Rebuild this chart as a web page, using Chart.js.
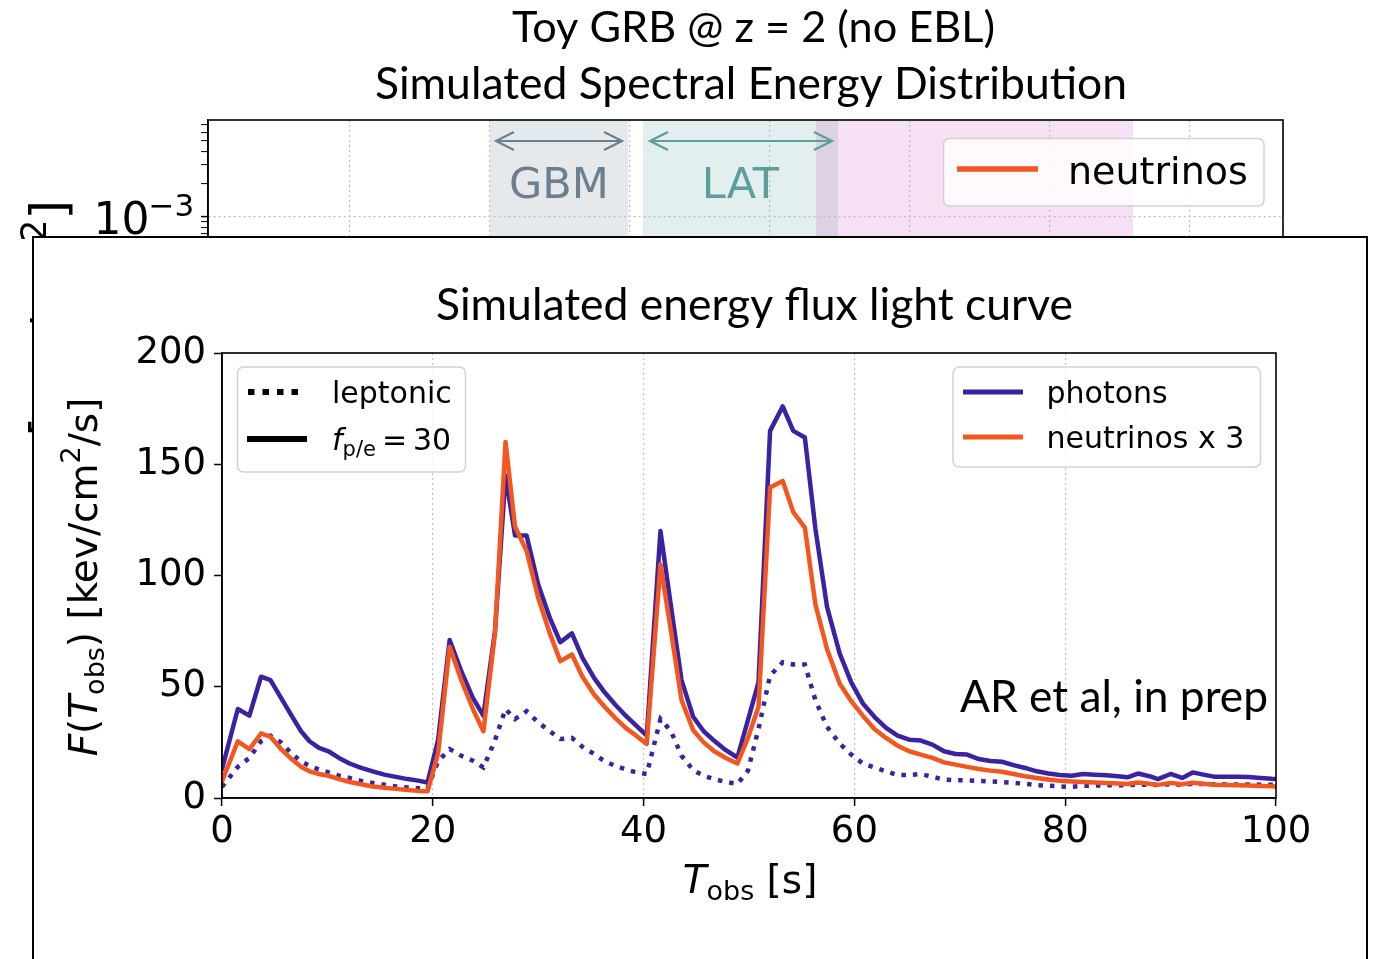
<!DOCTYPE html>
<html>
<head>
<meta charset="utf-8">
<script src="https://cdn.jsdelivr.net/npm/chart.js@4.4.1/dist/chart.umd.min.js"></script>
<style>
  html, body { margin: 0; padding: 0; background: #fff; overflow: hidden; }
  #sed { position: absolute; left: 0; top: 0; }
  #box { position: absolute; left: 32px; top: 236px; width: 1336px; height: 760px;
         box-sizing: border-box; border: 2px solid #000; background: #fff; }
  #lc { position: absolute; left: 0; top: 0; }
</style>
</head>
<body>
<canvas id="sed" width="1373" height="959"></canvas>
<div id="box"></div>
<canvas id="lc" width="1373" height="959"></canvas>
<script>
// ---- light curve data ----
const timeS = [0,1.5,2.6,3.7,4.6,5.6,6.6,7.5,8.3,9.2,10.1,11.1,12.1,13.2,14.3,15.4,16.5,17.6,18.6,19.5,
  20.5,21.6,22.7,23.8,24.8,25.9,26.9,27.8,28.9,30.0,31.1,32.1,33.2,34.2,35.3,36.3,37.3,38.3,39.3,40.3,
  41.6,42.6,43.6,44.7,45.7,46.7,47.8,48.9,49.9,50.9,52.0,53.2,54.2,55.3,56.3,57.4,58.6,59.7,60.8,61.9,
  63.0,64.1,65.2,66.3,67.4,68.5,69.6,70.7,71.8,72.9,74.0,75.1,76.2,77.3,78.4,79.5,80.6,81.7,82.8,83.9,
  85.0,85.9,86.9,88.0,88.8,90.0,91.1,92.1,93.1,94.1,95.2,96.3,97.4,98.5,99.6,100];

const photons = [13,40,37,54.5,53,45,37,30,25.5,22.5,21,18,15.5,13.5,12,10.5,9.5,8.5,7.8,7,
  26,71,57,45,37,75,145,118,118,96,81,70,74,63,54,47.5,42,37,32.5,28,
  120,86,53,36.5,30,25.7,21.5,18.2,35,52,165,176,165,162,121,86,65,52,42.5,36.5,
  31.5,28,26.2,25.8,24,21,19.8,19.5,17.5,16.6,16.3,14.8,13.5,12,11,10.3,10,10.8,10.5,10.2,
  9.8,9.3,11,9.8,8.5,10.8,9,11.5,10.5,9.6,9.6,9.6,9.4,9.0,8.6,8.5];

const neutrinosX3 = [7.5,25.5,22,29,27.5,22,17.5,14,12,10.8,10,8.5,7.2,6.2,5.2,4.6,4.1,3.6,3.2,3,
  20,68,53,40,30,74,160,122,111,90,74,61.5,64.5,54.5,46.5,41,36,31.5,28,24.3,
  105,75,44,30.5,25,21,18,15.5,27,41,139.5,142.5,128.5,121.5,87,67,51.5,43.5,37,31,
  27,23.5,21,19.5,18,16,15,14,13,12.3,11.8,10.8,9.8,9,8.3,7.7,7.4,7.2,7,6.7,
  6.5,6.3,7,6.4,5.9,6.8,6.2,6.9,6.4,6,5.8,5.7,5.6,5.4,5.3,5.2];

const leptonic = [5,14,18,25.5,28,25,20,16.5,14.5,12.8,11.5,10,9,7.7,6.8,6,5.2,4.7,4.4,4.3,
  16.5,22,19,16.8,13.7,26,40,35.5,39,34,30,26.5,27,23,19.8,16.5,14.5,12.8,11.5,10.8,
  35.5,30,19,12.5,10,8.5,7.2,6.3,12.3,31,55,61,60,60,44,32,24.5,19.5,15.5,13.7,
  12,10.3,10.3,10.8,9.5,8.3,8,7.9,7.7,7.5,7.2,6.8,6.4,5.8,5.5,5.2,5,5.5,5.6,5.7,
  5.7,5.8,6,6,5.8,6.2,6,6.4,6.3,6.2,6.1,6.1,6.1,6,6,6];

const lcXRange = [0, 100];
const lcYRange = [0, 200];

// ---- SED panel (only its top strip is visible) ----
const sedXRange = [0.09676, 4.617e6];
const sedYRange = [5.1e-10, 7.77e-3];
const sedXDecades = [1, 10, 100, 1e3, 1e4, 1e5, 1e6];
const sedYTicks = [1e-9, 1e-8, 1e-7, 1e-6, 1e-5, 1e-4, 7e-4, 8e-4, 9e-4,
  1e-3, 2e-3, 3e-3, 4e-3, 5e-3, 6e-3, 7e-3];
const gbmRange = [10, 96.8];
const latRange = [123.8, 3060];
const pinkRange = [2131, 3.916e5];
const sedNeutrinos = [];

const BLUE = '#3b22a2';
const ORANGE = '#f4561f';
const MPL = '"DejaVu Sans"';
const PPT = 'Lato';

function fitText(ctx, text, x0, x1, base, family) {
  ctx.font = '40px ' + family;
  const w = ctx.measureText(text).width;
  ctx.font = (40 * (x1 - x0) / w).toFixed(2) + 'px ' + family;
  ctx.textAlign = 'left';
  ctx.textBaseline = 'alphabetic';
  ctx.fillText(text, x0, base);
}

function runsWidth(ctx, runs) {
  let w = 0;
  for (const r of runs) { ctx.font = r.f; w += ctx.measureText(r.t).width; }
  return w;
}

function drawRuns(ctx, runs, x, y) {
  ctx.textAlign = 'left';
  ctx.textBaseline = 'alphabetic';
  let cx = x;
  for (const r of runs) {
    ctx.font = r.f;
    ctx.fillText(r.t, cx, y + (r.dy || 0));
    cx += ctx.measureText(r.t).width;
  }
}

function legendBox(ctx, x0, y0, x1, y1) {
  ctx.beginPath();
  ctx.roundRect(x0, y0, x1 - x0, y1 - y0, 6);
  ctx.fillStyle = 'rgba(255,255,255,0.8)';
  ctx.fill();
  ctx.strokeStyle = '#d2d2d2';
  ctx.lineWidth = 1.5;
  ctx.stroke();
}

function hline(ctx, x0, x1, y, color, width, dash) {
  ctx.beginPath();
  ctx.setLineDash(dash || []);
  ctx.lineCap = 'butt';
  ctx.strokeStyle = color;
  ctx.lineWidth = width;
  ctx.moveTo(x0, y);
  ctx.lineTo(x1, y);
  ctx.stroke();
  ctx.setLineDash([]);
}

function arrow(ctx, x0, x1, y, color) {
  ctx.strokeStyle = color;
  ctx.lineWidth = 2.2;
  ctx.beginPath();
  ctx.moveTo(x0, y); ctx.lineTo(x1, y);
  ctx.moveTo(x0 + 18, y - 9); ctx.lineTo(x0, y); ctx.lineTo(x0 + 18, y + 9);
  ctx.moveTo(x1 - 18, y - 9); ctx.lineTo(x1, y); ctx.lineTo(x1 - 18, y + 9);
  ctx.stroke();
}

const isDecade = v => Math.abs(Math.log10(v) - Math.round(Math.log10(v))) < 1e-6;

// bands behind the grid of the SED panel
const sedBands = {
  id: 'sedBands',
  beforeDraw(chart) {
    const {ctx, chartArea: a, scales: {x}} = chart;
    ctx.save();
    const band = (r, color) => {
      const p0 = x.getPixelForValue(r[0]), p1 = x.getPixelForValue(r[1]);
      ctx.fillStyle = color;
      ctx.fillRect(p0, a.top, p1 - p0, a.bottom - a.top);
    };
    band(gbmRange, 'rgba(88,108,128,0.15)');
    band(latRange, 'rgba(68,142,142,0.15)');
    band(pinkRange, 'rgba(188,55,175,0.15)');
    ctx.restore();
  }
};

const sedDecor = {
  id: 'sedDecor',
  afterDraw(chart) {
    const {ctx, chartArea: a, scales: {x, y}} = chart;
    ctx.save();
    ctx.fillStyle = '#000';
    fitText(ctx, 'Toy GRB @ z = 2 (no EBL)', 512, 995, 42, PPT);
    fitText(ctx, 'Simulated Spectral Energy Distribution', 375, 1127, 99, PPT);

    // spines
    ctx.strokeStyle = '#000';
    ctx.lineWidth = 1.6;
    ctx.strokeRect(a.left, a.top, a.right - a.left, a.bottom - a.top);

    // instrument ranges
    const g0 = x.getPixelForValue(gbmRange[0]), g1 = x.getPixelForValue(gbmRange[1]);
    const l0 = x.getPixelForValue(latRange[0]), l1 = x.getPixelForValue(latRange[1]);
    arrow(ctx, g0 + 6, g1 - 6, 141, '#6d7e8d');
    arrow(ctx, l0 + 7, l1 - 6, 141, '#5c9e9a');
    ctx.font = '43px ' + MPL;
    ctx.textAlign = 'center';
    ctx.textBaseline = 'alphabetic';
    ctx.fillStyle = '#6d7e8d';
    ctx.fillText('GBM', (g0 + g1) / 2, 198);
    ctx.fillStyle = '#5c9e9a';
    ctx.fillText('LAT', (l0 + l1) / 2, 198);

    // legend
    legendBox(ctx, 943.5, 138.5, 1264, 206);
    hline(ctx, 957, 1038, 169, ORANGE, 5.5);
    ctx.fillStyle = '#000';
    ctx.font = '38px ' + MPL;
    ctx.textAlign = 'left';
    ctx.fillText(chart.data.datasets[0].label, 1068, 184);

    // y tick label 10^-3
    const yp = y.getPixelForValue(1e-3);
    drawRuns(ctx, [{t: '10', f: '44px ' + MPL}], 93.5, yp + 17);
    drawRuns(ctx, [{t: '\u22123', f: '31px ' + MPL}], 148.5, yp - 1);

    // y axis label (mostly hidden under the inset)
    ctx.translate(66, 200);
    ctx.rotate(-Math.PI / 2);
    const runs = [
      {t: '[erg/cm', f: '50px ' + MPL},
      {t: '2', f: '35px ' + MPL, dy: -20},
      {t: ']', f: '50px ' + MPL}
    ];
    drawRuns(ctx, runs, -runsWidth(ctx, runs), 0);
    ctx.restore();
  }
};

new Chart(document.getElementById('sed'), {
  type: 'line',
  data: { datasets: [{ label: 'neutrinos', data: sedNeutrinos, borderColor: ORANGE, borderWidth: 4, pointRadius: 0 }] },
  options: {
    responsive: false,
    animation: false,
    events: [],
    layout: { padding: { left: 108, top: 120, right: 90, bottom: 39 } },
    plugins: { legend: { display: false }, tooltip: { enabled: false } },
    scales: {
      x: {
        type: 'logarithmic',
        min: sedXRange[0], max: sedXRange[1],
        afterBuildTicks: s => { s.ticks = sedXDecades.map(v => ({value: v})); },
        afterFit: s => { s.height = 20; },
        ticks: { display: false },
        grid: { color: '#bdbdbd', lineWidth: 1.2, drawTicks: false },
        border: { display: false, dash: [2, 3] }
      },
      y: {
        type: 'logarithmic',
        min: sedYRange[0], max: sedYRange[1],
        afterBuildTicks: s => { s.ticks = sedYTicks.map(v => ({value: v})); },
        afterFit: s => { s.width = 100; },
        ticks: { display: false, autoSkip: false },
        grid: {
          color: c => (c.tick && isDecade(c.tick.value)) ? '#bdbdbd' : 'rgba(0,0,0,0)',
          lineWidth: 1.2,
          tickColor: '#000',
          tickLength: 7,
          tickWidth: c => (c.tick && isDecade(c.tick.value)) ? 1.5 : 1
        },
        border: { display: true, color: '#000', width: 1.6, dash: [2, 3] }
      }
    }
  },
  plugins: [sedBands, sedDecor]
});

// ---- light curve inset ----
const lcDecor = {
  id: 'lcDecor',
  afterDraw(chart) {
    const {ctx, chartArea: a} = chart;
    const ds = chart.data.datasets;
    ctx.save();
    ctx.strokeStyle = '#000';
    ctx.lineWidth = 1.6;
    ctx.strokeRect(a.left, a.top, a.right - a.left, a.bottom - a.top);

    ctx.fillStyle = '#000';
    fitText(ctx, 'Simulated energy flux light curve', 436, 1073, 320, PPT);
    fitText(ctx, 'AR et al, in prep', 960, 1268, 712, PPT);

    // axis titles
    const xl = [
      {t: 'T', f: 'italic 39px ' + MPL},
      {t: 'obs', f: '27px ' + MPL, dy: 7},
      {t: ' [s]', f: '39px ' + MPL}
    ];
    ctx.fillStyle = '#000';
    drawRuns(ctx, xl, 750 - runsWidth(ctx, xl) / 2, 893);

    const yl = [
      {t: 'F', f: 'italic 39px ' + MPL},
      {t: '(', f: '39px ' + MPL},
      {t: 'T', f: 'italic 39px ' + MPL},
      {t: 'obs', f: '27px ' + MPL, dy: 7},
      {t: ')', f: '39px ' + MPL},
      {t: ' [kev/cm', f: '39px ' + MPL},
      {t: '2', f: '27px ' + MPL, dy: -17},
      {t: '/s]', f: '39px ' + MPL}
    ];
    ctx.save();
    ctx.translate(97, 577);
    ctx.rotate(-Math.PI / 2);
    drawRuns(ctx, yl, -runsWidth(ctx, yl) / 2, 0);
    ctx.restore();

    // line style legend
    legendBox(ctx, 237.5, 367, 465.5, 472);
    hline(ctx, 248, 300, 392, '#000', 6, [6.5, 8]);
    hline(ctx, 247, 307, 439, '#000', 6);
    ctx.fillStyle = '#000';
    drawRuns(ctx, [{t: 'leptonic', f: '30px ' + MPL}], 332, 403);
    drawRuns(ctx, [
      {t: 'f', f: 'italic 30px ' + MPL},
      {t: 'p/e', f: '21px ' + MPL, dy: 6},
      {t: '\u2009=\u200930', f: '30px ' + MPL}
    ], 332, 450);

    // messenger legend
    legendBox(ctx, 953, 367, 1260.5, 467);
    hline(ctx, 963, 1023, 392, ds[1].borderColor, 5);
    hline(ctx, 963, 1023, 437, ds[0].borderColor, 5);
    ctx.fillStyle = '#000';
    drawRuns(ctx, [{t: ds[1].label, f: '30px ' + MPL}], 1046.5, 403);
    drawRuns(ctx, [{t: ds[0].label, f: '30px ' + MPL}], 1046.5, 448);
    ctx.restore();
  }
};

const pts = arr => timeS.map((t, i) => ({x: t, y: arr[i]}));

new Chart(document.getElementById('lc'), {
  type: 'line',
  data: {
    datasets: [
      { label: 'neutrinos x 3', data: pts(neutrinosX3), borderColor: ORANGE, borderWidth: 4.5,
        pointRadius: 0, tension: 0, borderJoinStyle: 'round', borderCapStyle: 'round' },
      { label: 'photons', data: pts(photons), borderColor: BLUE, borderWidth: 4.5,
        pointRadius: 0, tension: 0, borderJoinStyle: 'round', borderCapStyle: 'round' },
      { label: 'leptonic', data: pts(leptonic), borderColor: BLUE, borderWidth: 4.5,
        borderDash: [4.5, 7], borderCapStyle: 'butt', pointRadius: 0, tension: 0 }
    ]
  },
  options: {
    responsive: false,
    animation: false,
    events: [],
    layout: { padding: { left: 122, top: 353, right: 97, bottom: 81 } },
    plugins: { legend: { display: false }, tooltip: { enabled: false } },
    scales: {
      x: {
        type: 'linear',
        min: lcXRange[0], max: lcXRange[1],
        afterFit: s => { s.height = 80; },
        ticks: { stepSize: 20, color: '#000', font: { family: 'DejaVu Sans', size: 37 }, padding: 4, maxRotation: 0 },
        grid: {
          color: c => (c.tick && c.tick.value > 0 && c.tick.value < 100) ? '#c4c4c4' : 'rgba(0,0,0,0)',
          lineWidth: 1.2, tickColor: '#000', tickLength: 8, tickWidth: 1.5
        },
        border: { display: true, color: '#000', width: 1.6, dash: [2, 3] }
      },
      y: {
        type: 'linear',
        min: lcYRange[0], max: lcYRange[1],
        afterFit: s => { s.width = 100; },
        ticks: { stepSize: 50, color: '#000', font: { family: 'DejaVu Sans', size: 37 }, padding: 8 },
        grid: { drawOnChartArea: false, tickColor: '#000', tickLength: 8, tickWidth: 1.5 },
        border: { display: true, color: '#000', width: 1.6 }
      }
    }
  },
  plugins: [lcDecor]
});
</script>
</body>
</html>
